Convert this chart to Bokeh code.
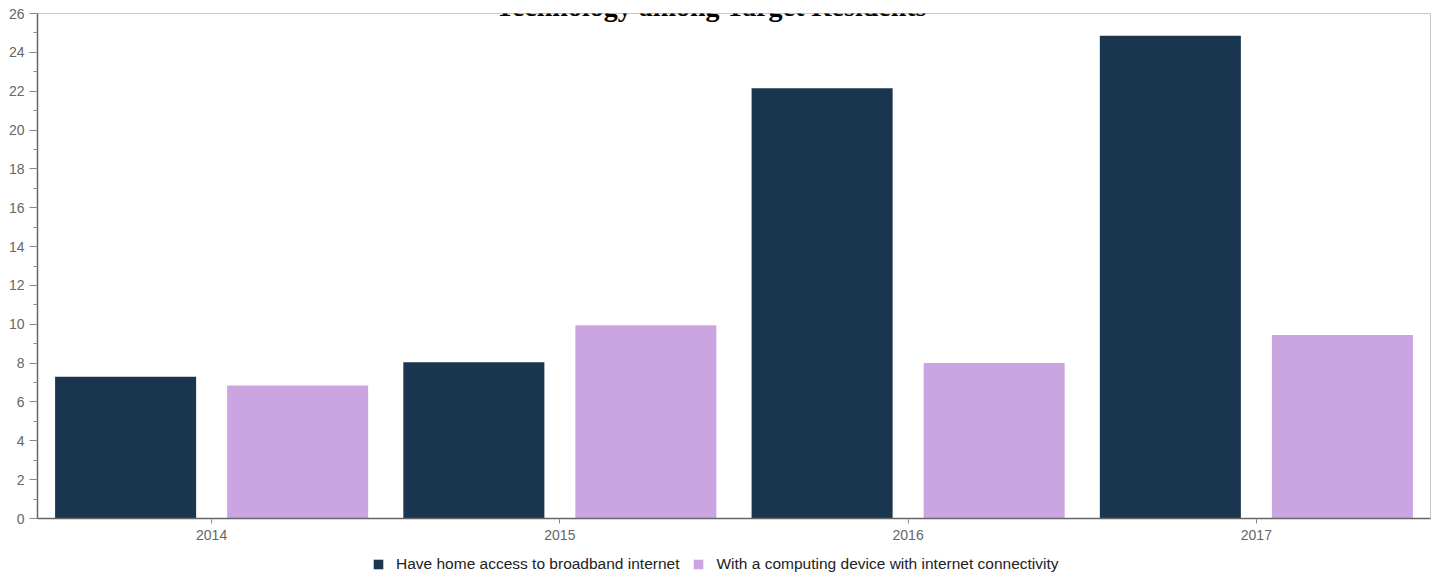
from bokeh.plotting import figure
from bokeh.layouts import column
from bokeh.models import (ColumnDataSource, FactorRange, Range1d, SingleIntervalTicker,
                          Legend, LegendItem, Label)
from bokeh.transform import dodge
from bokeh.embed import file_html
from bokeh.resources import INLINE

# Survey results, percent of target residents
years = ["2014", "2015", "2016", "2017"]
broadband = [7.3, 8.05, 22.15, 24.85]
computing_device = [6.85, 9.95, 8.0, 9.45]

series_names = ["Have home access to broadband internet",
                "With a computing device with internet connectivity"]
colors = ["#1a364f", "#cba5e2"]
title_text = "Technology among Target Residents"

source = ColumnDataSource(dict(year=years, broadband=broadband, device=computing_device))

p = figure(width=1439, height=550, output_backend="svg", toolbar_location=None,
           x_range=FactorRange(*years, range_padding=0), y_range=Range1d(0, 26),
           min_border_left=37, min_border_right=9, min_border_top=13, min_border_bottom=32)

p.background_fill_color = "white"
p.border_fill_color = "white"
p.outline_line_color = "#c8c8c8"
p.outline_line_width = 1
p.xgrid.grid_line_color = None
p.ygrid.grid_line_color = None

p.vbar(x=dodge("year", -0.247, range=p.x_range), top="broadband", width=0.405,
       source=source, color=colors[0], line_color=None)
p.vbar(x=dodge("year", 0.247, range=p.x_range), top="device", width=0.405,
       source=source, color=colors[1], line_color=None)

# Axes
yax = p.yaxis[0]
yax.ticker = SingleIntervalTicker(interval=2, num_minor_ticks=2)
yax.major_tick_out = 8
yax.major_tick_in = 0
yax.minor_tick_out = 4
yax.minor_tick_in = 0
yax.major_label_standoff = 5
for ax in (p.xaxis[0], yax):
    ax.axis_line_color = "#666666"
    ax.axis_line_width = 1.5
    ax.major_tick_line_color = "#888888"
    ax.minor_tick_line_color = "#888888"
    ax.major_label_text_color = "#666666"
    ax.major_label_text_font = "Liberation Sans"
    ax.major_label_text_font_size = "14px"

xax = p.xaxis[0]
xax.major_tick_out = 5
xax.major_tick_in = 0
xax.major_label_standoff = 6

# Title sits mostly above the visible canvas, just over the frame
title = Label(x=1.935, y=26.36, text=title_text, text_font="Liberation Serif",
              text_font_style="bold", text_font_size="28px", text_color="#000000",
              text_align="center", text_baseline="alphabetic")
p.add_layout(title, "center")

# Legend strip under the chart; the key renderers hold a single zero-height bar
lg = figure(width=1439, height=27, output_backend="svg", toolbar_location=None,
            x_axis_location=None, y_axis_location=None,
            x_range=Range1d(0, 1), y_range=Range1d(0, 1),
            min_border_left=0, min_border_right=0, min_border_top=0, min_border_bottom=0)
lg.outline_line_color = None
lg.background_fill_color = "white"
lg.xgrid.grid_line_color = None
lg.ygrid.grid_line_color = None
key_src = ColumnDataSource(dict(x=[-5.0], top=[0.0]))
k1 = lg.vbar(x="x", top="top", width=0.01, source=key_src, color=colors[0], line_color=None)
k2 = lg.vbar(x="x", top="top", width=0.01, source=key_src, color=colors[1], line_color=None)

legend = Legend(items=[LegendItem(label=series_names[0], renderers=[k1]),
                       LegendItem(label=series_names[1], renderers=[k2])],
                orientation="horizontal", location=(335, 4),
                label_text_font="Liberation Sans", label_text_font_size="15.5px",
                label_text_color="#222222", glyph_width=12, glyph_height=12,
                label_standoff=12, spacing=13, padding=2, margin=0,
                border_line_color=None, background_fill_alpha=0)
lg.add_layout(legend, "center")

layout = column(p, lg, spacing=0)
open("out.html", "w").write(file_html(layout, INLINE))
